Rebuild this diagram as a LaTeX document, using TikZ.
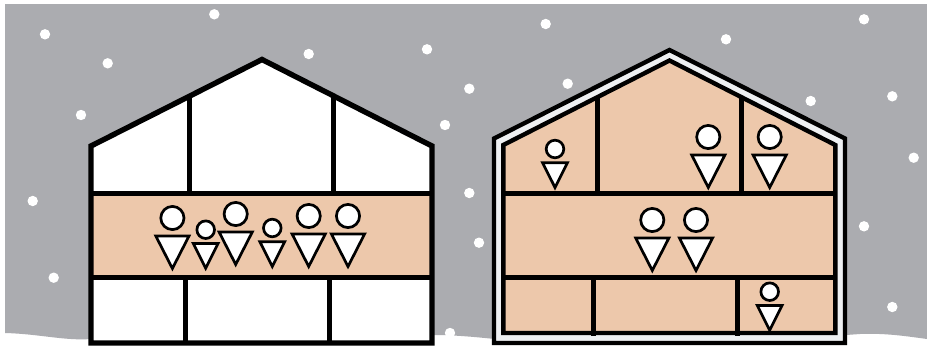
\documentclass[tikz,border=0pt]{standalone}
\definecolor{skygrey}{HTML}{ABACB0}
\definecolor{roomtan}{HTML}{EDC8AB}
\definecolor{wallpale}{HTML}{EEF0F2}
\tikzset{
  x=1pt,y=-1pt,
  flake/.style={fill=white,draw=none},
  wallthick/.style={draw=black,line width=5.4pt,miter limit=10},
  wallthin/.style={draw=black,line width=4.4pt,miter limit=10},
  divider/.style={draw=black,line width=4.8pt},
  floorline/.style={draw=black,line width=5pt},
  figure line/.style={draw=black,fill=white,line width=2.7pt,miter limit=10,line join=miter},
}
\newcommand{\bigperson}[2]{%
  \draw[figure line] (#1,#2) circle[radius=11.6];
  \draw[figure line] (#1-16.6,#2+18) -- (#1+16.6,#2+18) -- (#1,#2+50.5) -- cycle;
}
\newcommand{\smallperson}[2]{%
  \draw[figure line] (#1,#2) circle[radius=8.8];
  \draw[figure line] (#1-12.4,#2+13.8) -- (#1+12.4,#2+13.8) -- (#1,#2+38.5) -- cycle;
}
\begin{document}
\begin{tikzpicture}
\useasboundingbox (0,0) rectangle (927,348);
\fill[white] (0,0) rectangle (927,348);
% sky
\fill[skygrey] (5,4) -- (927,4) -- (927,339)
  .. controls (905,336) and (885,333) .. (860,334)
  -- (846,335) -- (495,339)
  .. controls (475,337) and (455,335) .. (433,335)
  -- (91,339)
  .. controls (65,341) and (40,334) .. (5,333) -- cycle;
% snowflakes
\foreach \px/\py in {45/34.3,214.3/14.3,107.7/63.3,308.7/54,427/49.3,81/115,445/125,32.7/201,53.7/277.7,450/333,
  545.7/24,726/39.3,864/19.3,469.3/88.7,567.7/83.7,810.7/101,892.3/96.3,913.7/157.7,469.3/193,479/242.7,864/226.3,892.3/307}
  \fill[flake] (\px,\py) circle[radius=5.2];
% left house
\fill[white] (91,146) -- (262,59.5) -- (432,146) -- (432,343) -- (91,343) -- cycle;
\fill[roomtan] (91,193) rectangle (432,277);
\draw[divider] (189.5,98) -- (189.5,193);
\draw[divider] (333.5,98) -- (333.5,193);
\draw[divider] (185.5,277) -- (185.5,343);
\draw[divider] (329.5,277) -- (329.5,343);
\draw[floorline] (91,193) -- (432,193);
\draw[floorline] (91,277) -- (432,277);
\draw[wallthick] (91,146) -- (262,59.5) -- (432,146) -- (432,343) -- (91,343) -- cycle;
\bigperson{172.4}{218}
\smallperson{205.7}{229.7}
\bigperson{235.7}{214}
\smallperson{272.3}{228}
\bigperson{308.7}{216}
\bigperson{348}{216}
% right house
\filldraw[wallthin,fill=wallpale] (494,138.5) -- (669.5,50) -- (845,138.5) -- (845,343) -- (494,343) -- cycle;
\fill[roomtan] (503.3,145) -- (669.5,60.5) -- (835.3,145) -- (835.3,333) -- (503.3,333) -- cycle;
\draw[divider] (597.3,98) -- (597.3,193);
\draw[divider] (741.3,98) -- (741.3,193);
\draw[divider] (593.7,277) -- (593.7,336);
\draw[divider] (737.7,277) -- (737.7,336);
\draw[floorline] (503.3,193) -- (835.3,193);
\draw[floorline] (503.3,277) -- (835.3,277);
\draw[wallthin] (503.3,145) -- (669.5,60.5) -- (835.3,145) -- (835.3,333) -- (503.3,333) -- cycle;
\smallperson{555}{149}
\bigperson{708.3}{137}
\bigperson{769.7}{137}
\bigperson{652.3}{220}
\bigperson{696}{220}
\smallperson{769.7}{291.7}
\end{tikzpicture}
\end{document}
